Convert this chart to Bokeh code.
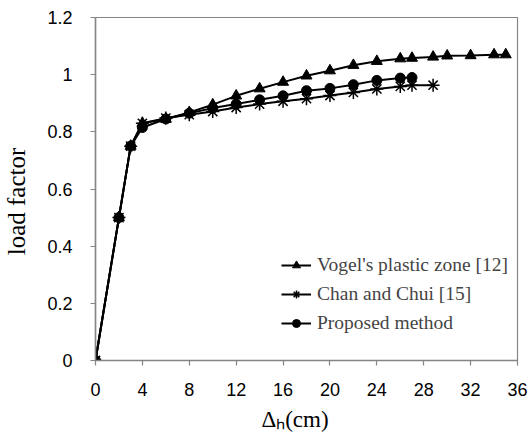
from bokeh.plotting import figure
from bokeh.models import (Range1d, FixedTicker, CustomJSTickFormatter, Legend,
                          LegendItem)
from bokeh.embed import file_html
from bokeh.resources import INLINE

# Horizontal displacement (cm) and load factor for each method
vogel_x = [0, 2, 3, 4, 6, 8, 10, 12, 14, 16, 18, 20, 22, 24, 26, 27, 28.8, 30, 32, 34, 35]
vogel_y = [0, 0.5, 0.75, 0.83, 0.845, 0.868, 0.895, 0.926, 0.951, 0.974, 0.996,
           1.014, 1.033, 1.047, 1.056, 1.058, 1.062, 1.066, 1.067, 1.07, 1.07]

chan_x = [0, 2, 3, 4, 6, 8, 10, 12, 14, 16, 18, 20, 22, 24, 26, 27, 28.8]
chan_y = [0, 0.5, 0.75, 0.83, 0.848, 0.86, 0.871, 0.885, 0.897, 0.907, 0.916,
          0.927, 0.938, 0.95, 0.959, 0.963, 0.963]

prop_x = [0, 2, 3, 4, 6, 8, 10, 12, 14, 16, 18, 20, 22, 24, 26, 27]
prop_y = [0, 0.5, 0.75, 0.815, 0.845, 0.865, 0.883, 0.897, 0.912, 0.926, 0.944,
          0.952, 0.965, 0.98, 0.988, 0.99]

x_ticks = [0, 4, 8, 12, 16, 20, 24, 28, 32, 36]
y_ticks = [0, 0.2, 0.4, 0.6, 0.8, 1.0, 1.2]

series_names = ["Vogel's plastic zone [12]", "Chan and Chui [15]", "Proposed method"]

AXIS_GRAY = "#858585"
SERIF = "Liberation Serif"
SANS = "Liberation Sans"
NBSP = "\u00a0"

p = figure(width=531, height=440, output_backend="svg", toolbar_location=None,
           x_range=Range1d(0, 36), y_range=Range1d(0, 1.2),
           min_border_left=95, min_border_right=14, min_border_top=17,
           min_border_bottom=80)

p.xgrid.visible = False
p.ygrid.visible = False
p.outline_line_color = AXIS_GRAY
p.outline_line_width = 1.2
p.background_fill_color = "white"
p.border_fill_color = "white"

for ax in (p.xaxis[0], p.yaxis[0]):
    ax.axis_line_color = AXIS_GRAY
    ax.axis_line_width = 1.5
    ax.major_tick_line_color = AXIS_GRAY
    ax.major_tick_line_width = 1.2
    ax.major_tick_out = 5
    ax.major_tick_in = 0
    ax.minor_tick_line_color = None
    ax.major_label_text_font = SANS
    ax.major_label_text_font_size = "18px"
    ax.major_label_text_color = "black"
    ax.axis_label_text_font = SERIF
    ax.axis_label_text_font_style = "normal"
    ax.axis_label_text_color = "black"

p.xaxis.ticker = FixedTicker(ticks=x_ticks)
p.yaxis.ticker = FixedTicker(ticks=y_ticks)
p.yaxis.formatter = CustomJSTickFormatter(code="return String(Math.round(tick * 10) / 10);")
p.xaxis.major_label_standoff = 17
p.yaxis.major_label_standoff = 18

# trailing non-breaking spaces nudge the titles off the frame centre
p.yaxis.axis_label = "load factor" + NBSP * 4
p.yaxis.axis_label_text_font_size = "25px"
p.yaxis.axis_label_standoff = 14

# Δ with a subscript h, followed by the unit
p.xaxis.axis_label = "Δ\u2095(cm)" + NBSP * 4
p.xaxis.axis_label_text_font_size = "23px"
p.xaxis.axis_label_standoff = 8

line_kw = dict(line_color="black", line_width=2)
r1l = p.line(vogel_x, vogel_y, **line_kw)
r1m = p.scatter(vogel_x, vogel_y, marker="triangle", size=11, color="black")
r2l = p.line(chan_x, chan_y, **line_kw)
r2m = p.scatter(chan_x, chan_y, marker="asterisk", size=13, line_color="black", line_width=1.5)
r3l = p.line(prop_x, prop_y, **line_kw)
r3m = p.scatter(prop_x, prop_y, marker="circle", size=10, color="black")

legend = Legend(items=[
    LegendItem(label=series_names[0], renderers=[r1l, r1m]),
    LegendItem(label=series_names[1], renderers=[r2l, r2m]),
    LegendItem(label=series_names[2], renderers=[r3l, r3m]),
], location=(186, 26))
legend.border_line_color = None
legend.background_fill_alpha = 0
legend.label_text_font = SERIF
legend.label_text_font_size = "19.5px"
legend.glyph_width = 30
legend.glyph_height = 20
legend.label_height = 20
legend.spacing = 7
legend.padding = 0
legend.margin = 0
legend.label_standoff = 6
p.add_layout(legend)

open("out.html", "w").write(file_html(p, INLINE))
